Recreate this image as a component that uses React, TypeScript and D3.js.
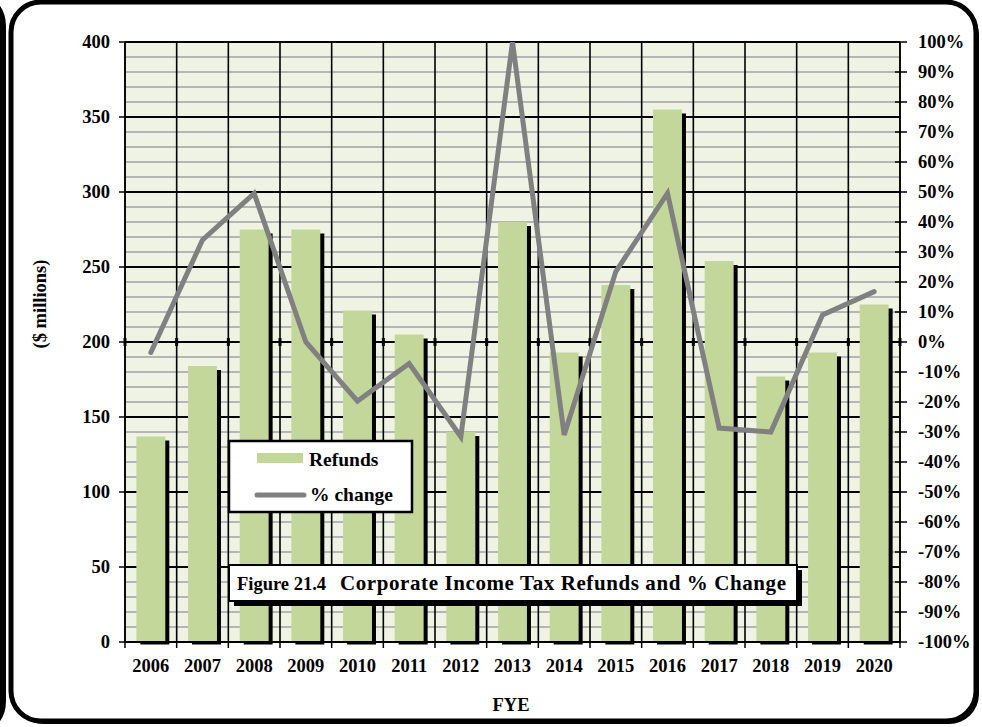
import React from "react";
import * as d3 from "d3";

const years = ["2006","2007","2008","2009","2010","2011","2012","2013","2014","2015","2016","2017","2018","2019","2020"];
const refunds = [137, 184, 275, 275, 221, 205, 140, 280, 193, 238, 355, 254, 177, 193, 225];
const pctChange = [-3.5, 34, 49.5, 0, -19.7, -7.2, -31.6, 100, -31, 23.5, 49.6, -28.7, -30, 9, 16.8];
const leftTicks = [0, 50, 100, 150, 200, 250, 300, 350, 400];
const rightTicks = d3.range(-100, 101, 10);
const minorTicks = d3.range(0, 401, 10);

const W = 982, H = 727;
const L = 125, R = 900, T = 42, B = 642;
const FONT = "'Liberation Serif', 'Times New Roman', serif";

export default function App() {
  const x = d3.scaleBand<string>().domain(years).range([L, R]).paddingInner(0).paddingOuter(0);
  const yL = d3.scaleLinear().domain([0, 400]).range([B, T]);
  const yR = d3.scaleLinear().domain([-100, 100]).range([B, T]);
  const bw = x.bandwidth() * 0.56;
  const boundaries = years.map((y) => x(y)!).concat([R]);
  const line = d3.line<number>()
    .x((_, i) => x(years[i])! + x.bandwidth() / 2)
    .y((d) => yR(d));

  return (
    <svg width={W} height={H} style={{ position: "absolute", left: 0, top: 0 }} fontFamily={FONT}>
      <defs>
        <clipPath id="plot"><rect x={L} y={T} width={R - L} height={B - T + 2.5} /></clipPath>
        <clipPath id="plotLine"><rect x={L} y={T} width={R - L} height={B - T} /></clipPath>
      </defs>
      <rect x={0} y={0} width={W} height={H} fill="#fff" />
      {/* left strip of outer frame */}
      <rect x={-40} y={-2} width={43} height={H + 4} rx={28} fill="none" stroke="#000" strokeWidth={6} />
      {/* frame shadow + frame */}
      <rect x={14} y={5} width={965} height={719} rx={30} fill="#000" />
      <rect x={11} y={2} width={965} height={719} rx={30} fill="#fff" stroke="#000" strokeWidth={5} />

      {/* plot background */}
      <rect x={L} y={T} width={R - L} height={B - T} fill="#eff3e4" />
      {/* minor gridlines */}
      {minorTicks.filter((v) => v % 50 !== 0).map((v) => (
        <line key={"mi" + v} x1={L} x2={R} y1={yL(v)} y2={yL(v)} stroke="#b5b5b5" strokeWidth={2} />
      ))}
      {/* major gridlines */}
      {leftTicks.map((v) => (
        <line key={"ma" + v} x1={L} x2={R} y1={yL(v)} y2={yL(v)} stroke="#000" strokeWidth={2} />
      ))}
      {/* vertical gridlines */}
      {boundaries.map((bx, i) => (
        <line key={"vg" + i} x1={bx} x2={bx} y1={T} y2={B} stroke="#000" strokeWidth={1.6} />
      ))}
      {/* secondary axis crossing ticks at 0% */}
      {boundaries.map((bx, i) => (
        <line key={"zt" + i} x1={bx} x2={bx} y1={yR(0) - 4} y2={yR(0) + 4} stroke="#000" strokeWidth={3} />
      ))}

      {/* bars */}
      <g clipPath="url(#plot)">
        {refunds.map((v, i) => {
          const bx = x(years[i])! + (x.bandwidth() - bw) / 2;
          return (
            <rect key={"sh" + i} x={bx + 4} y={yL(v) + 4} width={bw} height={B - yL(v)} fill="#000" />
          );
        })}
        {refunds.map((v, i) => {
          const bx = x(years[i])! + (x.bandwidth() - bw) / 2;
          return (
            <rect key={"b" + i} x={bx} y={yL(v)} width={bw} height={B - 1 - yL(v)} fill="#c4d79b" />
          );
        })}
      </g>

      {/* axes lines */}
      <line x1={L} x2={L} y1={T} y2={B} stroke="#000" strokeWidth={1.5} />
      <line x1={R} x2={R} y1={T} y2={B} stroke="#000" strokeWidth={1.5} />
      <line x1={L} x2={R} y1={B} y2={B} stroke="#000" strokeWidth={2} />

      {/* left ticks & labels */}
      {leftTicks.map((v) => (
        <g key={"lt" + v}>
          <line x1={L - 6} x2={L} y1={yL(v)} y2={yL(v)} stroke="#000" strokeWidth={1.5} />
          <text x={110} y={yL(v)} dy="0.35em" textAnchor="end" fontSize={18.5} fontWeight="bold">{v}</text>
        </g>
      ))}
      {/* right ticks & labels */}
      {rightTicks.map((v) => (
        <g key={"rt" + v}>
          <line x1={R - 5} x2={R + 7} y1={yR(v)} y2={yR(v)} stroke="#000" strokeWidth={1.5} />
          <text x={918} y={yR(v)} dy="0.35em" textAnchor="start" fontSize={18.5} fontWeight="bold">{v + "%"}</text>
        </g>
      ))}
      {/* bottom ticks & labels */}
      {boundaries.map((bx, i) => (
        <line key={"bt" + i} x1={bx} x2={bx} y1={B} y2={B + 6} stroke="#000" strokeWidth={1.5} />
      ))}
      {years.map((yv) => (
        <text key={"xl" + yv} x={x(yv)! + x.bandwidth() / 2} y={672} textAnchor="middle" fontSize={18.5} fontWeight="bold">{yv}</text>
      ))}

      {/* % change line */}
      <g clipPath="url(#plotLine)">
        <path d={line(pctChange) || ""} fill="none" stroke="#808080" strokeWidth={5} strokeLinejoin="miter" strokeLinecap="round" />
      </g>

      {/* axis titles */}
      <text x={511} y={711} textAnchor="middle" fontSize={18.5} fontWeight="bold">FYE</text>
      <text transform="translate(46,304) rotate(-90)" textAnchor="middle" fontSize={18.5} fontWeight="bold">($ millions)</text>

      {/* legend */}
      <rect x={229} y={441} width={183} height={71} fill="#fff" stroke="#000" strokeWidth={2.5} />
      <rect x={257} y={453} width={46} height={10} fill="#c4d79b" />
      <text x={309} y={466} fontSize={19.5} fontWeight="bold">Refunds</text>
      <line x1={257} x2={304} y1={495} y2={495} stroke="#808080" strokeWidth={5} strokeLinecap="round" />
      <text x={310} y={501} fontSize={19.5} fontWeight="bold">% change</text>

      {/* title box */}
      <rect x={234} y={570} width={568} height={36} fill="#000" />
      <rect x={229} y={565} width={568} height={36} fill="#fff" stroke="#000" strokeWidth={2} />
      <text x={237} y={590} fontSize={18.5} fontWeight="bold">Figure 21.4</text>
      <text x={340} y={590} fontSize={21} fontWeight="bold" textLength={446} lengthAdjust="spacing">Corporate Income Tax Refunds and % Change</text>
    </svg>
  );
}
